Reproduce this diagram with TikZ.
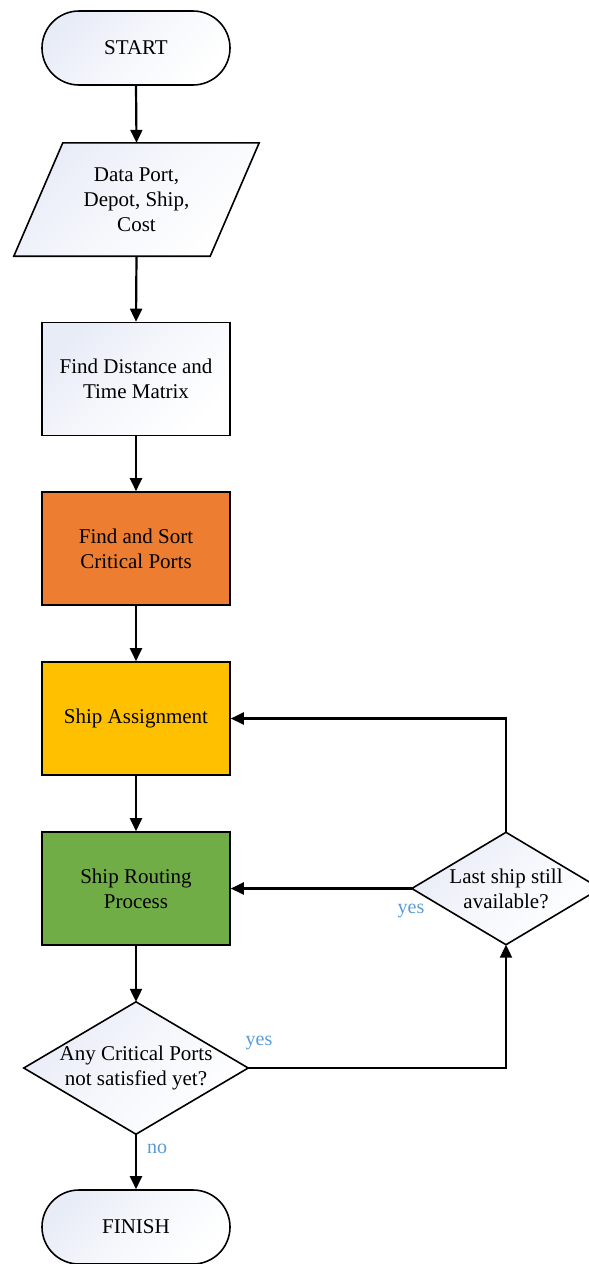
\documentclass[tikz,border=0pt]{standalone}
\usepackage{fontspec}
\setmainfont{Liberation Serif}
\usetikzlibrary{arrows.meta,backgrounds,calc}
\definecolor{orangefill}{HTML}{ED7D31}
\definecolor{yellowfill}{HTML}{FFC000}
\definecolor{greenfill}{HTML}{70AD47}
\definecolor{tint}{HTML}{E8ECF7}
\definecolor{labelblue}{HTML}{5B9BD5}
\tikzset{
  every node/.style={font=\fontsize{21}{25}\selectfont, align=center},
  soft/.style={top color=tint, bottom color=white, middle color=white!60!tint, shading angle=45},
  outline/.style={draw, line width=1.6pt},
  terminal/.style={outline, soft, rounded corners=37pt, minimum width=188pt, minimum height=74pt},
  procbox/.style={outline, minimum width=188pt, minimum height=113pt},
  holder/.style={inner sep=0pt},
  flow/.style={line width=2.2pt, -{Triangle[width=12pt,length=13pt]}},
  answer/.style={text=labelblue, font=\fontsize{20}{22}\selectfont},
}
\begin{document}
\begin{tikzpicture}[x=1pt,y=-1pt]
\useasboundingbox (0,0) rectangle (589,1264);

% terminals and process boxes
\node[terminal] (start) at (136,48) {START};
\node[holder, minimum width=196pt, minimum height=113pt] (data) at (136.5,199.5) {Data Port,\\Depot, Ship,\\Cost};
\node[procbox, soft] (dist) at (136,379) {Find Distance and\\Time Matrix};
\node[procbox, fill=orangefill] (crit) at (136,548.5) {Find and Sort\\Critical Ports};
\node[procbox, fill=yellowfill] (assign) at (136,718.5) {Ship Assignment};
\node[procbox, fill=greenfill] (route) at (136,888.5) {Ship Routing\\Process};
\node[holder, minimum width=188pt, minimum height=112pt] (q2) at (506,888.5) {Last ship still\\available?};
\node[holder, minimum width=224pt, minimum height=132pt] (q1) at (136,1068) {Any Critical Ports\\not satisfied yet?};
\node[terminal] (finish) at (136,1227) {FINISH};

% input parallelogram and decision diamonds
\begin{pgfonlayer}{background}
  \path[outline, soft] ($(data.north west)+(24.5,0)$) -- ($(data.north east)+(24.5,0)$)
      -- ($(data.south east)+(-24.5,0)$) -- ($(data.south west)+(-24.5,0)$) -- cycle;
  \path[outline, soft] (q1.north) -- (q1.east) -- (q1.south) -- (q1.west) -- cycle;
  \path[outline, soft] (q2.north) -- (q2.east) -- (q2.south) -- (q2.west) -- cycle;
\end{pgfonlayer}

% connectors
\draw[flow] (start.south) -- (data.north);
\draw[flow] (data.south) -- (dist.north);
\draw[flow] (dist.south) -- (crit.north);
\draw[flow] (crit.south) -- (assign.north);
\draw[flow] (assign.south) -- (route.north);
\draw[flow] (route.south) -- (q1.north);
\draw[flow] (q1.south) -- (finish.north);
\draw[flow] (q1.east) -| (q2.south);
\draw[flow] (q2.west) -- (route.east);
\draw[flow] (q2.north) |- (assign.east);

% branch labels
\node[answer] (yesloop) at (411,911) {yes};
\node[answer] (yescrit) at (259,1043) {yes};
\node[answer] (nocrit) at (157,1149) {no};
\end{tikzpicture}
\end{document}
